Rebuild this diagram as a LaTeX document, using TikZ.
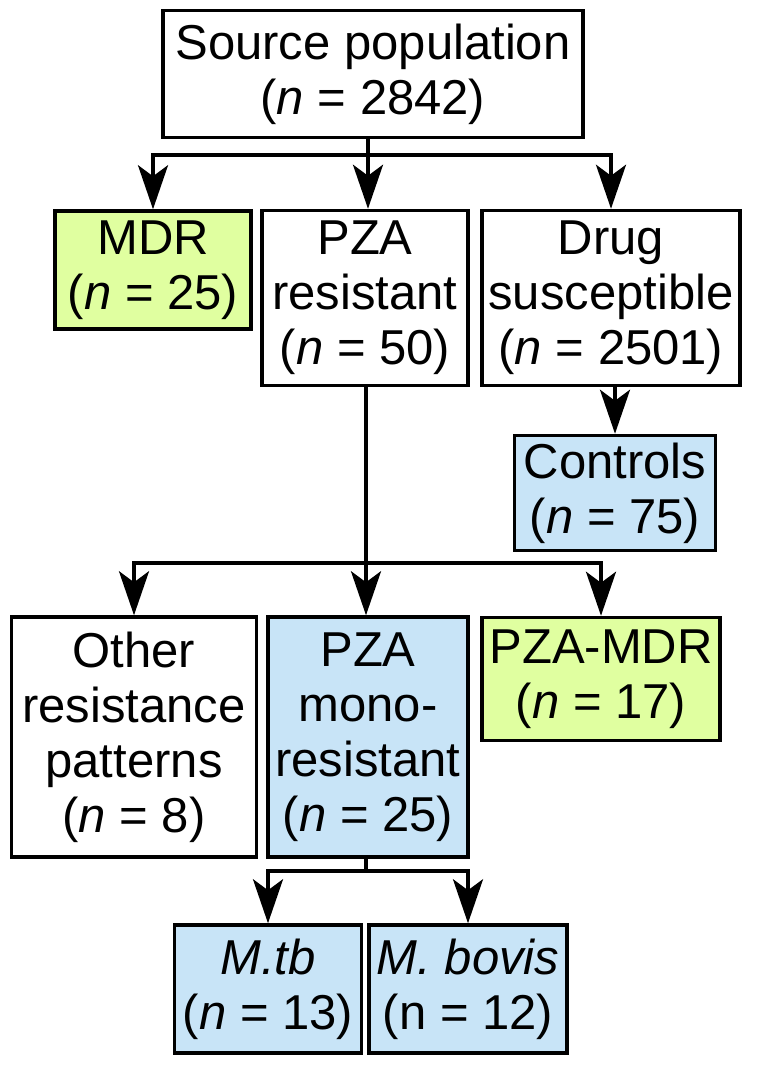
\documentclass[tikz,border=0pt]{standalone}
\usepackage{fontspec}
\setmainfont{Liberation Sans}
\usetikzlibrary{arrows.meta, positioning}

\definecolor{mdrgreen}{RGB}{224,255,160}
\definecolor{ctrlblue}{RGB}{200,228,247}

\tikzset{
	box/.style={draw, line width=3.5pt, align=center, inner sep=0pt,
		font=\fontsize{49}{55}\selectfont},
	link/.style={line width=3.5pt},
	arr/.style={link, -{Stealth[length=44pt, width=30pt, inset=11pt]}}
}

\begin{document}
\begin{tikzpicture}[x=1pt, y=-1pt]

	% Canvas
	\useasboundingbox (0, 0) rectangle (758, 1066);

	% Top
	\node[box, minimum width=420, minimum height=127] (src) at (373, 74) {Source population\\(\textit{n} = 2842)};

	% Second row
	\node[box, fill=mdrgreen, minimum width=196, minimum height=118] (mdr) at (153, 270) {MDR\\(\textit{n} = 25)};
	\node[box, minimum width=206, minimum height=175] (pza) at (365, 298) {PZA\\resistant\\(\textit{n} = 50)};
	\node[box, minimum width=258, minimum height=175] (drug) at (611, 298) {Drug\\susceptible\\(\textit{n} = 2501)};
	\node[box, fill=ctrlblue, minimum width=201, minimum height=115] (ctrl) at (615, 493) {Controls\\(\textit{n} = 75)};

	% Third row
	\node[box, minimum width=245, minimum height=240] (other) at (134, 737) {Other\\resistance\\patterns\\(\textit{n} = 8)};
	\node[box, fill=ctrlblue, minimum width=200, minimum height=240] (mono) at (368, 737) {PZA\\mono-\\resistant\\(\textit{n} = 25)};
	\node[box, fill=mdrgreen, minimum width=238, minimum height=123] (pzamdr) at (601, 679) {PZA-MDR\\(\textit{n} = 17)};

	% Bottom row
	\node[box, fill=ctrlblue, minimum width=187, minimum height=128] (mtb) at (268, 989) {\textit{M.tb}\\(\textit{n} = 13)};
	\node[box, fill=ctrlblue, minimum width=198, minimum height=128] (bovis) at (468, 989) {\textit{M. bovis}\\(n = 12)};

	% Split points
	\coordinate (split1) at (368, 155);
	\coordinate (split2) at (366, 563);
	\coordinate (split3) at (366, 871);

	% Connectors
	\draw[link] (split1 |- src.south) -- (split1);
	\draw[arr] (split1) -| (mdr.north);
	\draw[arr] (split1) -- (split1 |- pza.north);
	\draw[arr] (split1) -| (drug.north);
	\draw[arr] (ctrl.north |- drug.south) -- (ctrl.north);

	\draw[link] (split2 |- pza.south) -- (split2);
	\draw[arr] (split2) -| (other.north);
	\draw[arr] (split2) -- (split2 |- mono.north);
	\draw[arr] (split2) -| (pzamdr.north);

	\draw[link] (split3 |- mono.south) -- (split3);
	\draw[arr] (split3) -| (mtb.north);
	\draw[arr] (split3) -| (bovis.north);

\end{tikzpicture}
\end{document}
